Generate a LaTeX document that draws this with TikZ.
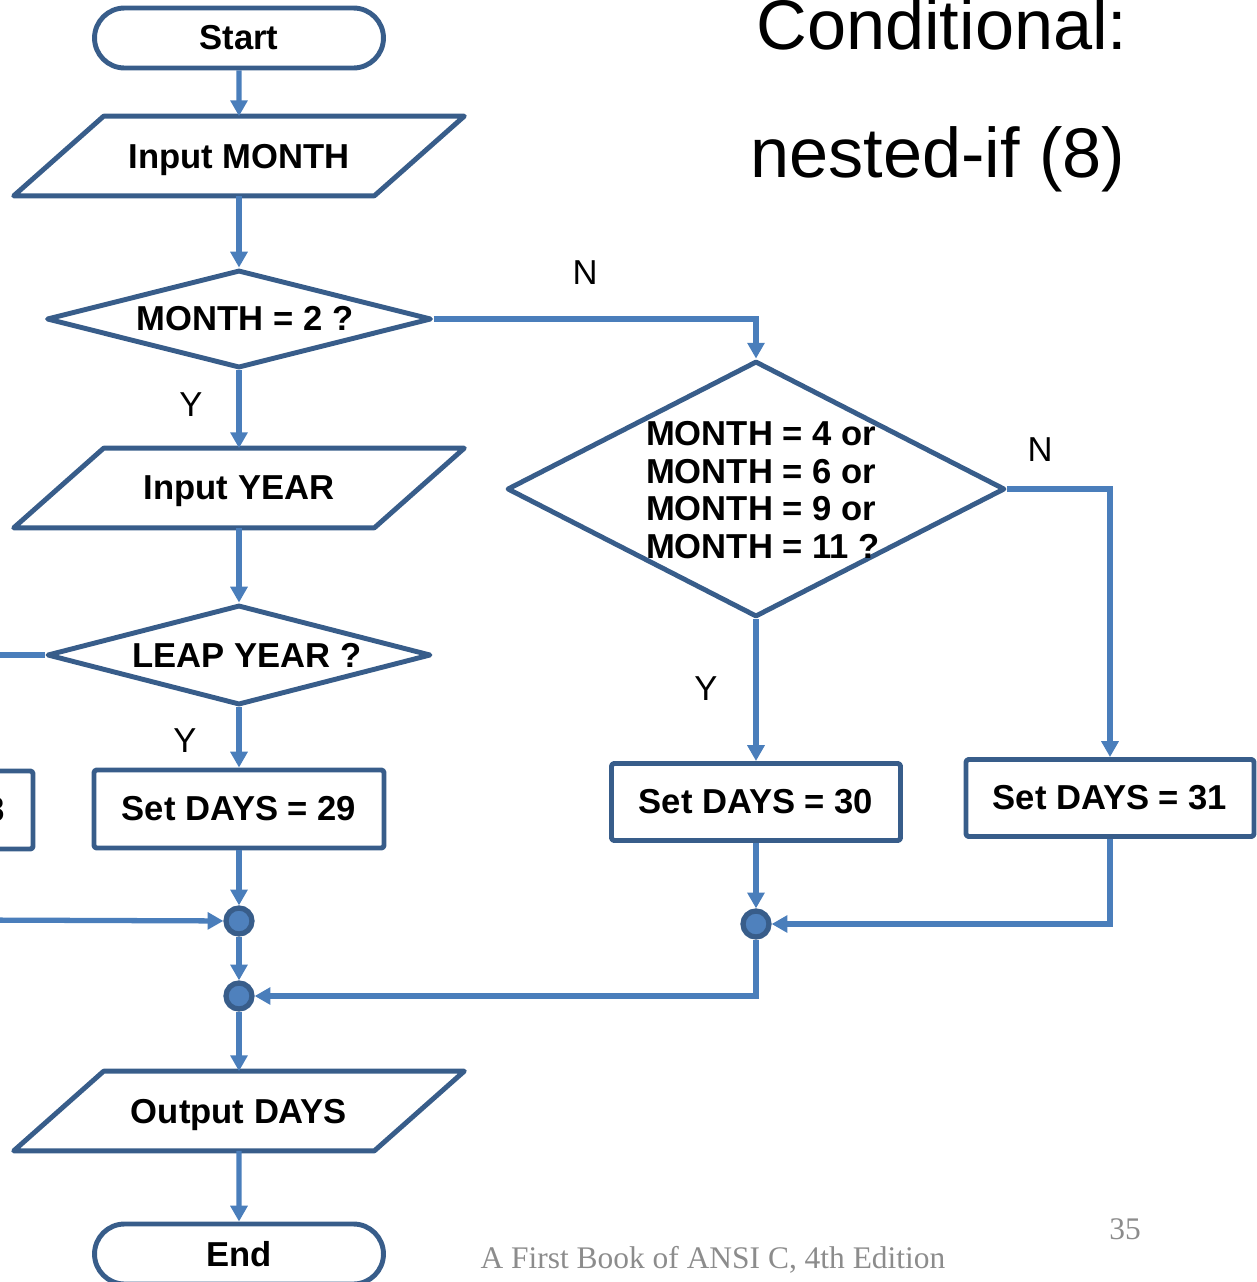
\documentclass[tikz,border=0pt]{standalone}
\usepackage{fontspec}
\setmainfont{Liberation Sans}
\newfontfamily\footfont{Liberation Serif}
\usetikzlibrary{shapes.geometric,shapes.misc,arrows.meta}
\definecolor{shapeblue}{HTML}{385D8A}
\definecolor{linkblue}{HTML}{4A7EBB}
\definecolor{dotblue}{HTML}{4F81BD}
\definecolor{footgray}{HTML}{8C8C8C}

\tikzset{
  outline/.style={draw=shapeblue, line width=2.8pt, line join=round},
  txt/.style={font=\bfseries\fontsize{19.7}{21.3}\selectfont, text=black},
  terminal/.style={outline, txt, rounded rectangle, minimum width=5.78cm, minimum height=1.2cm, inner sep=0pt},
  iobox/.style={txt, rectangle, minimum width=7.2cm, minimum height=1.58cm, inner sep=0pt, text depth=0pt},
  decision/.style={outline, diamond, inner sep=0pt},
  process/.style={outline, txt, rectangle, rounded corners=1.5pt, minimum width=5.8cm, minimum height=1.56cm, inner sep=0pt},
  joint/.style={circle, fill=dotblue, draw=shapeblue, line width=3pt, minimum size=0.52cm, inner sep=0pt},
  link/.style={draw=linkblue, line width=3pt, -{Triangle[length=9pt,width=9.5pt]}},
  plainlink/.style={draw=linkblue, line width=3pt},
  yn/.style={font=\fontsize{19.7}{22}\selectfont},
}
% slanted input/output outline around a rectangular node
\newcommand{\ioslant}[1]{\draw[outline] ([xshift=0.9cm]#1.north west) -- ([xshift=0.9cm]#1.north east) -- ([xshift=-0.9cm]#1.south east) -- ([xshift=-0.9cm]#1.south west) -- cycle;}

\begin{document}
\begin{tikzpicture}[x=0.02cm, y=-0.02cm]
\useasboundingbox (0,0) rectangle (1257,1282);
\clip (0,0) rectangle (1257,1282);

% title
\node[font=\fontsize{40}{48}\selectfont, anchor=base] (title1) at (942,49) {Conditional:};
\node[font=\fontsize{40}{48}\selectfont, anchor=base] (title2) at (938,177) {nested-if (8)};

% left column
\node[terminal] (start) at (239,38) {Start};
\node[iobox] (inmonth) at (239,156) {Input MONTH};
\ioslant{inmonth}
\node[decision, minimum width=7.7cm, minimum height=1.96cm] (feb) at (239,319) {};
\node[txt] (febt) at (245,319) {MONTH = 2 ?};
\node[iobox] (inyear) at (239,488) {Input YEAR};
\ioslant{inyear}
\node[decision, minimum width=7.68cm, minimum height=2.0cm] (leap) at (239,655) {};
\node[txt] (leapt) at (247,655) {LEAP YEAR ?};
\node[process] (d29) at (239,809) {Set DAYS = 29};
\node[process] (d28) at (-112,810) {Set DAYS = 28};
\node[joint] (j1) at (239,921) {};
\node[joint] (j2) at (239,996) {};
\node[iobox] (outdays) at (239,1111) {Output DAYS};
\ioslant{outdays}
\node[terminal] (stop) at (239,1254) {End};

% right part
\node[decision, minimum width=9.96cm, minimum height=5.12cm] (thirty) at (756,489) {};
\node[txt, align=left] (thirtyt) at (763,490) {MONTH = 4 or\\MONTH = 6 or\\MONTH = 9 or\\MONTH = 11 ?};
\node[process, minimum width=5.78cm, minimum height=1.54cm] (d30) at (756,802) {Set DAYS = 30};
\node[process, minimum width=5.76cm, minimum height=1.54cm] (d31) at (1110,798) {Set DAYS = 31};
\node[joint] (j3) at (756,924) {};

% branch labels
\node[yn] (n1) at (585,273) {N};
\node[yn] (y1) at (191,405) {Y};
\node[yn] (y2) at (185,741) {Y};
\node[yn] (n2) at (1040,450) {N};
\node[yn] (y3) at (706,689) {Y};

% loose ends leaving the left edge
\coordinate (leapout) at (-30,655);
\coordinate (leapin) at (-30,920);

% connectors
\draw[link] (start) -- (inmonth);
\draw[link] (inmonth) -- (feb);
\draw[link] (feb.east) -| (thirty.north);
\draw[link] (feb) -- (inyear);
\draw[link] (inyear) -- (leap);
\draw[plainlink] (leap.west) -- (leapout);
\draw[link] (leap) -- (d29);
\draw[link] (d29) -- (j1);
\draw[link] (leapin) -- (j1);
\draw[link] (j1) -- (j2);
\draw[link] (thirty) -- (d30);
\draw[link] (thirty.east) -| (d31.north);
\draw[link] (d30) -- (j3);
\draw[link] (d31.south) |- (j3);
\draw[link] (j3) |- (j2);
\draw[link] (j2) -- (outdays);
\draw[link] (outdays) -- (stop);

% footer
\node[font=\footfont\fontsize{17.9}{20}\selectfont, text=footgray, anchor=base] (book) at (713,1268) {A First Book of ANSI C, 4th Edition};
\node[font=\footfont\fontsize{17.9}{20}\selectfont, text=footgray, anchor=base] (page) at (1125,1239) {35};
\end{tikzpicture}
\end{document}
